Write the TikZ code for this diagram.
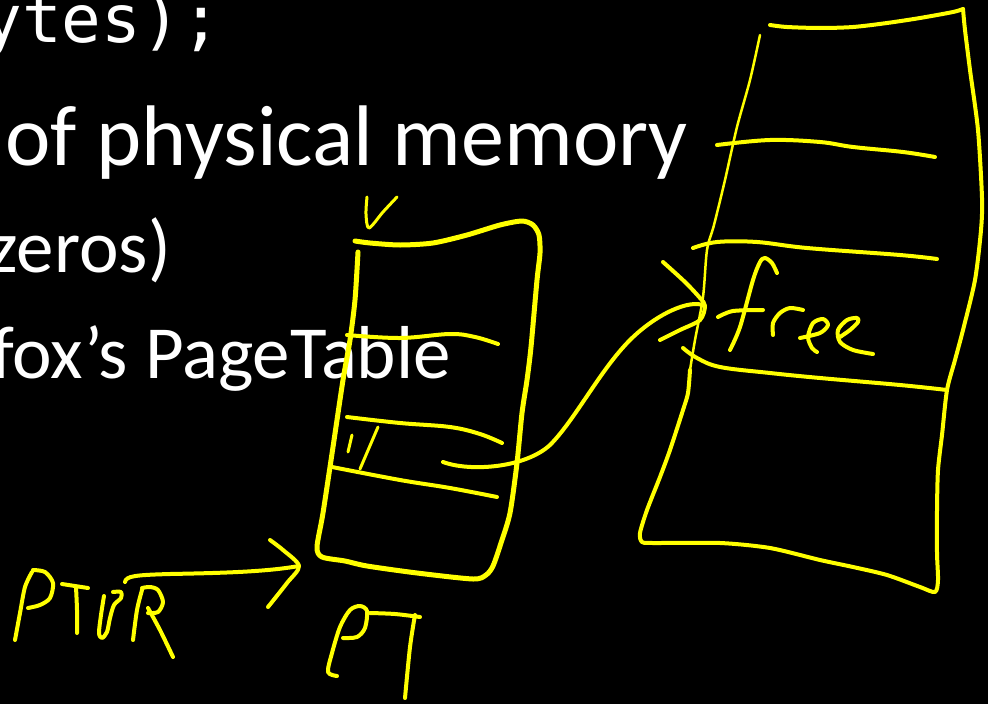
\documentclass[tikz,border=0pt]{standalone}
\usepackage{fontspec}
\setmainfont{Carlito}
\newfontfamily\codefont{DejaVu Sans Mono}
\definecolor{marker}{RGB}{255,255,0}
\tikzset{
  slidetext/.style={text=white, inner sep=0pt, font=\fontsize{86}{100}\selectfont},
  subtext/.style={text=white, inner sep=0pt, font=\fontsize{75}{90}\selectfont},
  codetext/.style={text=white, inner sep=0pt, font=\codefont\fontsize{66}{78}\selectfont},
  ink/.style={draw=marker, line width=4pt, line cap=round, line join=round},
  inkthin/.style={ink, line width=2.5pt},
  inkbold/.style={ink, line width=5pt},
}
\begin{document}
\begin{tikzpicture}[x=1pt, y=-1pt]
% slide background
\fill[black] (0,0) rectangle (988,704);
\useasboundingbox (0,0) rectangle (988,704);

% slide text (left part runs off the page)
\node[codetext, anchor=base east] (code) at (221,42) {ytes);};
\node[slidetext, anchor=base east] (lineA) at (688,165) {of physical memory};
\node[subtext, anchor=base east] (lineB) at (171,272) {zeros)};
\node[subtext, anchor=base east] (lineC) at (451,378) {fox’s PageTable};

% ---------- page table ----------
\draw[ink, line width=3pt] plot[smooth, tension=0.5] coordinates {(367,197) (366,214) (369,228) (383,212) (397,197)};
\draw[inkbold] plot[smooth, tension=0.45] coordinates {
  (358,252) (355,300) (350,340) (343,380) (333,447) (323,513) (317,547)
  (322,557) (345,561) (367,566) (417,573) (473,579) (486,575) (493,566)
  (501,543) (510,513) (517,463) (522,413) (527,380) (531,347) (537,280)
  (540,253) (539,235) (533,225) (522,221) (500,225) (467,235) (433,243)
  (400,245) (370,243) (355,241)};
\draw[ink] plot[smooth, tension=0.6] coordinates {(347,335) (400,338) (450,334) (475,337) (498,344)};
\draw[ink] plot[smooth, tension=0.6] coordinates {(347,417) (400,423) (450,427) (480,434) (502,443)};
\draw[ink] plot[smooth, tension=0.6] coordinates {(332,467) (400,480) (450,488) (497,497)};
% valid bit "1"
\draw[ink, line width=3pt] (352,435) -- (348,452);
\draw[ink, line width=3pt] (378,427) -- (360,469);

% label PT
\draw[ink] plot[smooth, tension=0.5] coordinates {(337,676) (328,672) (332,653) (340,627) (350,610) (360,606) (367,611) (365,628) (357,637) (343,638)};
\draw[ink] plot[smooth, tension=0.5] coordinates {(370,613) (395,614) (420,617)};
\draw[ink] plot[smooth, tension=0.5] coordinates {(415,615) (410,647) (405,698)};

% ---------- PTBR with its arrow ----------
\draw[ink] plot[smooth, tension=0.5] coordinates {(15,640) (20,613) (25,587) (32,572)};
\draw[ink] plot[smooth, tension=0.5] coordinates {(33,570) (45,572) (53,583) (50,598) (40,605) (28,608)};
\draw[ink] (62,584) -- (88,588);
\draw[ink] plot[smooth, tension=0.5] coordinates {(76,587) (77,610) (77,633)};
\draw[ink] plot[smooth, tension=0.5] coordinates {(104,596) (101,615) (99,633) (102,638) (107,632) (110,618) (114,605) (121,598) (121,592) (113,592)};
\draw[ink] plot[smooth, tension=0.5] coordinates {(133,640) (137,610) (142,590)};
\draw[ink] plot[smooth, tension=0.5] coordinates {(142,588) (150,587) (158,590) (163,602) (158,612) (148,613)};
\draw[ink] plot[smooth, tension=0.5] coordinates {(148,608) (160,630) (173,657)};

\coordinate (ptbrtail) at (125,582);
\coordinate (ptbrtip) at (299,566);
\draw[ink] (ptbrtail) .. controls (126,576) and (135,575) .. (170,574)
  .. controls (220,573) and (265,572) .. (ptbrtip);
\draw[ink] plot[smooth, tension=0.5] coordinates {(270,540) (283,550) (ptbrtip) (287,583) (268,607)};

% ---------- physical memory ----------
\draw[inkthin] plot[smooth, tension=0.5] coordinates {(760,35) (750,80) (737,127) (725,180) (714,225) (707,250) (703,297) (695,340) (690,370)};
\draw[ink] plot[smooth, tension=0.45] coordinates {
  (690,370) (688,393) (683,410) (670,450) (660,477) (647,510) (640,533)
  (642,542) (653,543) (720,543) (770,548) (820,560) (853,567) (887,575)
  (920,587) (935,592) (938,580) (937,553) (937,510) (938,470) (942,435)
  (947,390) (955,360) (963,330) (975,280) (981,230) (982,198) (978,130)
  (970,70) (965,30) (963,9)};
\draw[ink] plot[smooth, tension=0.5] coordinates {(963,9) (953,12) (920,18) (887,23) (853,27) (820,28) (787,27) (770,25)};
\draw[ink] plot[smooth, tension=0.6] coordinates {(717,145) (770,140) (820,142) (853,147) (903,152) (935,157)};
\draw[ink] plot[smooth, tension=0.6] coordinates {(693,248) (717,242) (757,242) (807,248) (900,255) (937,259)};
\draw[ink] plot[smooth, tension=0.6] coordinates {(683,348) (697,358) (720,367) (770,373) (820,378) (900,385) (947,390)};

% "free" written in the slot
\draw[ink] plot[smooth, tension=0.5] coordinates {(730,350) (740,327) (753,280) (760,262) (765,258) (772,263) (777,273)};
\draw[ink] plot[smooth, tension=0.5] coordinates {(718,317) (733,311) (763,310)};
\draw[ink] plot[smooth, tension=0.5] coordinates {(773,335) (773,323) (780,313) (790,308) (803,310)};
\draw[ink] plot[smooth, tension=0.5] coordinates {(800,338) (820,333) (828,325) (823,319) (813,323) (808,337) (812,348) (817,352)};
\draw[ink] plot[smooth, tension=0.5] coordinates {(840,337) (850,330) (858,322) (857,318) (847,320) (838,330) (840,342) (853,350) (873,354)};

% ---------- connector: PTE -> free frame ----------
\coordinate (entry) at (443,462);
\coordinate (slot) at (705,306);
\draw[ink] (entry) .. controls (470,472) and (525,468) .. (550,445)
  .. controls (575,420) and (600,370) .. (630,340)
  .. controls (655,315) and (690,298) .. (slot);
\draw[ink] plot[smooth, tension=0.5] coordinates {(663,262) (685,282) (700,298) (slot) (700,320) (680,330) (660,340)};
\end{tikzpicture}
\end{document}
